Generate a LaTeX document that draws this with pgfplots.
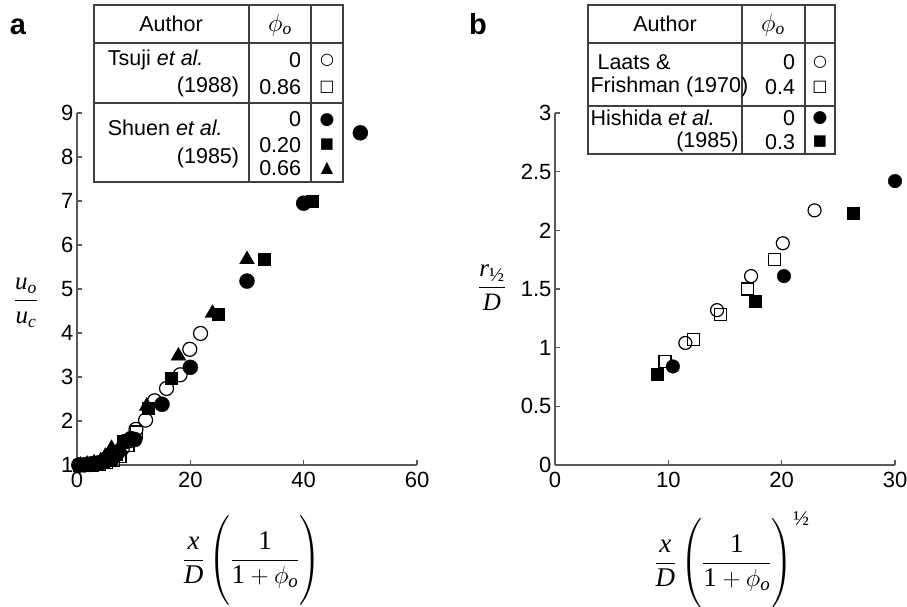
\documentclass[border=0pt]{standalone}
\usepackage{amsmath}
\usepackage{pgfplots}
\pgfplotsset{compat=1.18}
\usepackage{fontspec}
\setmainfont{Liberation Sans}
\newfontfamily\tms{Liberation Serif}
\newfontfamily\sym{DejaVu Sans}
\newcommand{\V}[1]{\text{\tms\itshape #1}}
\newcommand{\R}[1]{\text{\tms #1}}
\newcommand{\half}[1]{\mbox{\fontsize{#1}{#1}\tms ½}}
\definecolor{axgray}{gray}{0.35}

\pgfplotsset{
  panel/.style={
    scale only axis, anchor=south west,
    width=340pt, height=352pt,
    axis x line=bottom, axis y line=left,
    axis line style={-, axgray, line width=1.4pt},
    major tick style={axgray, line width=1.2pt},
    tick align=inside, major tick length=5pt,
    ticklabel style={font=\fontsize{22}{24}\selectfont},
    xticklabel style={yshift=-4pt},
    /pgf/number format/assume math mode=true,
    clip=false,
  },
  oc/.style={only marks, mark=o, mark size=7pt, mark options={black, line width=1.2pt}},
  os/.style={only marks, mark=square, mark size=6pt, mark options={black, line width=1.2pt}},
  fc/.style={only marks, mark=*, mark size=7.5pt, mark options={black, fill=black}},
  fs/.style={only marks, mark=square*, mark size=6pt, mark options={black, fill=black}},
  ft/.style={only marks, mark=triangle*, mark size=8.5pt, mark options={black, fill=black}},
}

\begin{document}
\begin{tikzpicture}
\path[use as bounding box] (0pt,0pt) rectangle (907pt,-606pt);

% panel a
\begin{axis}[panel, at={(77pt,-465pt)},
  xmin=0, xmax=60, ymin=1, ymax=9,
  xtick={0,20,40,60}, ytick={1,2,...,9}]
% Tsuji et al. phi=0
\addplot[oc] coordinates {(0.3,1.0) (1.2,1.0) (2.2,1.01) (3.3,1.03) (4.5,1.06) (5.6,1.12)
  (6.8,1.22) (8.0,1.38) (9.2,1.55) (10.4,1.81) (12.1,2.02) (13.7,2.46) (15.8,2.74)
  (18.2,3.05) (19.9,3.63) (21.8,3.99)};
% Tsuji et al. phi=0.86
\addplot[os] coordinates {(0.5,0.98) (1.6,0.99) (2.8,1.0) (4.0,1.02) (5.2,1.05) (6.4,1.1)
  (7.6,1.2) (9.0,1.45) (10.5,1.75)};
% Shuen et al. phi=0
\addplot[fc] coordinates {(0.4,1.0) (1.5,1.01) (2.6,1.03) (3.8,1.05) (5.0,1.08) (6.2,1.14)
  (7.3,1.3) (8.4,1.53) (9.5,1.6) (10.2,1.58) (15.0,2.38) (20.0,3.22) (30.0,5.18)
  (40.0,6.95) (50.0,8.55)};
% Shuen et al. phi=0.20
\addplot[fs] coordinates {(0.8,1.0) (2.0,1.01) (3.2,1.03) (4.4,1.06) (5.8,1.1) (7.0,1.25)
  (8.2,1.53) (12.5,2.29) (16.6,2.98) (25.0,4.42) (33.0,5.68) (41.5,7.0)};
% Shuen et al. phi=0.66
\addplot[ft] coordinates {(0.6,1.0) (1.8,1.02) (3.0,1.05) (4.2,1.1) (5.0,1.2) (6.1,1.38)
  (12.3,2.34) (17.9,3.48) (23.9,4.45) (30.0,5.67)};
\end{axis}

% panel b
\begin{axis}[panel, at={(555pt,-465pt)},
  xmin=0, xmax=30, ymin=0, ymax=3,
  xtick={0,10,20,30}, ytick={0,0.5,...,3},
  yticklabels={0,0.5,1,1.5,2,2.5,3}]
% Laats & Frishman phi=0
\addplot[oc, mark size=6.5pt] coordinates {(11.5,1.04) (14.3,1.32) (17.3,1.61) (20.1,1.89) (22.9,2.17)};
% Laats & Frishman phi=0.4
\addplot[os] coordinates {(9.7,0.88) (12.2,1.07) (14.6,1.28) (17.0,1.50) (19.35,1.75)};
% Hishida et al. phi=0
\addplot[fc, mark size=6.8pt] coordinates {(10.4,0.84) (20.2,1.61) (30.0,2.42)};
% Hishida et al. phi=0.3
\addplot[fs] coordinates {(9.0,0.77) (17.7,1.40) (26.3,2.15)};
\end{axis}

% panel letters
\node[font=\fontsize{29}{30}\selectfont\bfseries] at (18pt,-27pt) {a};
\node[font=\fontsize{29}{30}\selectfont\bfseries] at (478pt,-24pt) {b};

% axis labels
\node[font=\fontsize{25}{27}\selectfont] at (26pt,-303pt)
  {$\displaystyle\frac{\V{u}_{\V{o}}}{\V{u}_{\V{c}}}$};
\node[font=\fontsize{25}{27}\selectfont] at (492pt,-288pt)
  {$\displaystyle\frac{\V{r}_{\half{20}}}{\V{D}}$};
\node[font=\fontsize{27}{30}\selectfont, inner sep=0pt] at (252pt,-560pt)
  {$\displaystyle\frac{\V{x}}{\V{D}}\left(\rule[-34pt]{0pt}{78pt}\frac{\R{1}}{\R{1}+\phi_{\V{o}}}\right)$};
\node[font=\fontsize{27}{30}\selectfont, inner sep=0pt] at (732pt,-560pt)
  {$\displaystyle\frac{\V{x}}{\V{D}}\left(\rule[-34pt]{0pt}{78pt}\frac{\R{1}}{\R{1}+\phi_{\V{o}}}\right)^{\half{21}}$};

% legend table a
\begin{scope}[line width=1.1pt, draw=black!75, font=\fontsize{21.5}{23}\selectfont]
\draw (94pt,-5pt) rectangle (343pt,-182pt);
\draw (249pt,-5pt) -- (249pt,-182pt);
\draw (311pt,-5pt) -- (311pt,-182pt);
\draw (94pt,-43pt) -- (343pt,-43pt);
\draw (94pt,-103pt) -- (343pt,-103pt);
\node at (171pt,-24pt) {Author};
\node[font=\fontsize{25}{27}\selectfont] at (280pt,-25pt) {$\phi_{\V{o}}$};
\node[anchor=west] at (104pt,-60pt) {Tsuji \textit{et al.}};
\node[anchor=east] at (243pt,-87pt) {(1988)};
\node[anchor=east] at (305pt,-60pt) {0};
\node[anchor=east] at (305pt,-87pt) {0.86};
\node[anchor=west] at (104pt,-128pt) {Shuen \textit{et al.}};
\node[anchor=east] at (243pt,-158pt) {(1985)};
\node[anchor=east] at (305pt,-119pt) {0};
\node[anchor=east] at (305pt,-145pt) {0.20};
\node[anchor=east] at (305pt,-168pt) {0.66};
\node[font=\fontsize{16}{18}\sym] at (327pt,-60pt) {○};
\node[font=\fontsize{16}{18}\sym] at (327pt,-87pt) {□};
\node[font=\fontsize{17}{18}\sym] at (327pt,-120pt) {●};
\node[font=\fontsize{15}{18}\sym] at (327pt,-145pt) {■};
\node[font=\fontsize{16}{18}\sym] at (327pt,-168pt) {▲};
\end{scope}

% legend table b
\begin{scope}[line width=1.1pt, draw=black!75, font=\fontsize{21.5}{23}\selectfont]
\draw (588pt,-5pt) rectangle (835pt,-154pt);
\draw (742pt,-5pt) -- (742pt,-154pt);
\draw (805pt,-5pt) -- (805pt,-154pt);
\draw (588pt,-43pt) -- (835pt,-43pt);
\draw (588pt,-106pt) -- (835pt,-106pt);
\node at (665pt,-24pt) {Author};
\node[font=\fontsize{25}{27}\selectfont] at (773pt,-25pt) {$\phi_{\V{o}}$};
\node[anchor=west, inner sep=1pt] at (596pt,-62pt) {Laats \&};
\node[anchor=west, inner sep=1pt] at (589pt,-87pt) {Frishman (1970)};
\node[anchor=east] at (799pt,-62pt) {0};
\node[anchor=east] at (799pt,-87pt) {0.4};
\node[anchor=west, inner sep=1pt] at (589pt,-118pt) {Hishida \textit{et al.}};
\node[anchor=east, inner sep=1pt] at (740pt,-142pt) {(1985)};
\node[anchor=east] at (799pt,-118pt) {0};
\node[anchor=east] at (799pt,-142pt) {0.3};
\node[font=\fontsize{16}{18}\sym] at (820pt,-62pt) {○};
\node[font=\fontsize{16}{18}\sym] at (820pt,-87pt) {□};
\node[font=\fontsize{17}{18}\sym] at (820pt,-118pt) {●};
\node[font=\fontsize{15}{18}\sym] at (820pt,-142pt) {■};
\end{scope}
\end{tikzpicture}
\end{document}
